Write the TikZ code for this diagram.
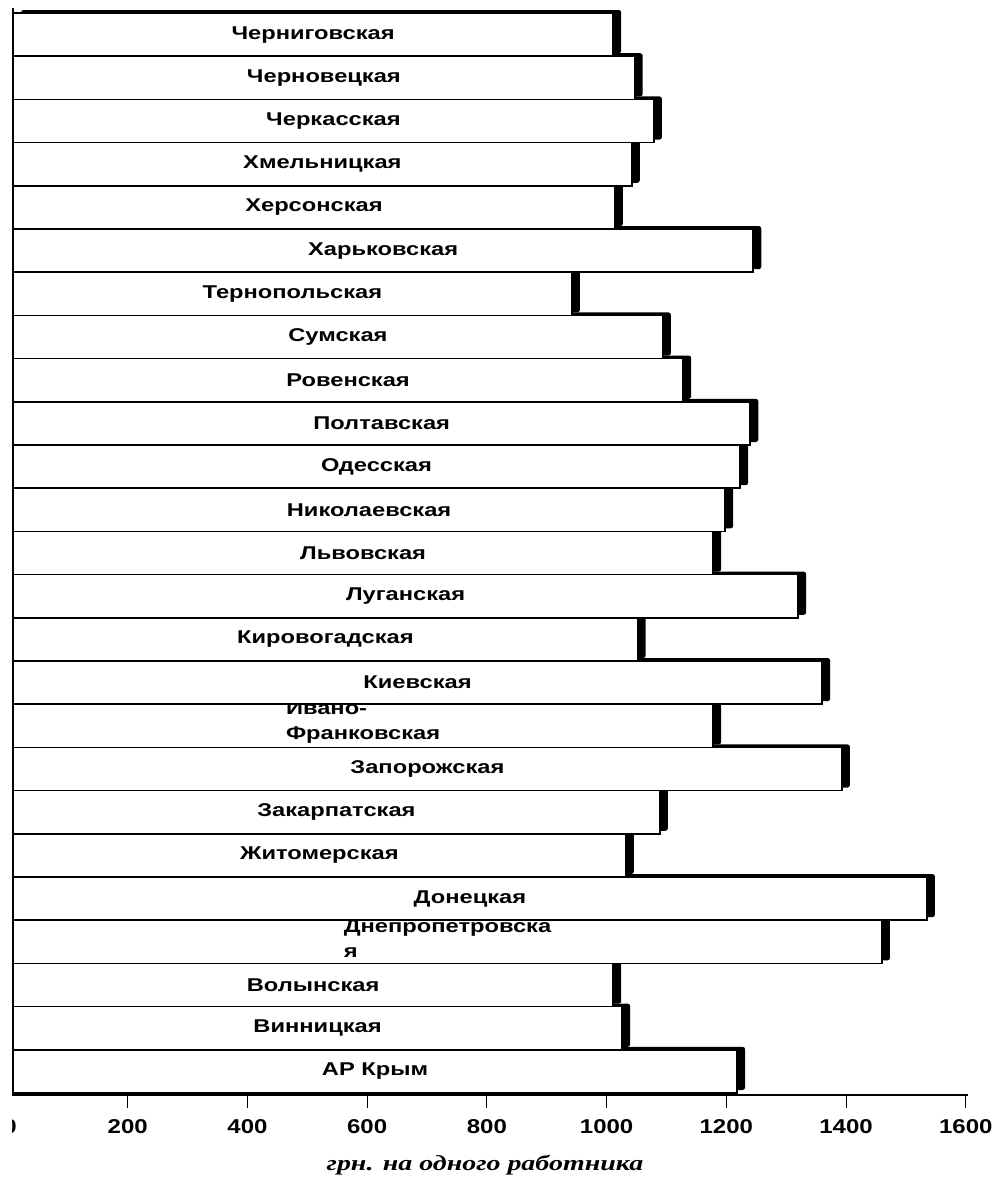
\documentclass[tikz,border=0pt]{standalone}
\usepackage{fontspec}
\setmainfont{Liberation Serif}
\newfontfamily\barfont[FakeStretch=1.28]{Liberation Sans}
\newfontfamily\tickfont[FakeStretch=1.2]{Liberation Sans}
\newfontfamily\unitfont[FakeStretch=1.3]{Liberation Serif}
\usetikzlibrary{calc}

% regions from the bottom bar upwards: name/value/label lift
\def\regions{%
    {АР Крым}/1218/0, Винницкая/1026/0, Волынская/1011/0,
    {Днепропетровска\\я}/1460/3, Донецкая/1535/0, Житомерская/1032/0,
    Закарпатская/1089/0, Запорожская/1393/0, {Ивано-\\Франковская}/1178/3,
    Киевская/1360/0, Кировогадская/1052/0, Луганская/1320/0,
    Львовская/1178/0, Николаевская/1198/0, Одесская/1223/0,
    Полтавская/1240/0, Ровенская/1128/0, Сумская/1094/0,
    Тернопольская/942/0, Харьковская/1245/0, Херсонская/1014/0,
    Хмельницкая/1042/0, Черкасская/1079/0, Черновецкая/1047/0,
    Черниговская/1011/0}

\begin{document}
\begin{tikzpicture} [
    x=1pt, y=-1pt,
    bar/.style = {draw=black, line width=1.6pt, fill=white},
    barshadow/.style = {fill=black, rounded corners=2.5pt},
    barlabel/.style = {font=\barfont\bfseries\fontsize{18.5}{25}\selectfont, align=left, inner sep=0pt},
    ticklabel/.style = {font=\tickfont\bfseries\fontsize{20}{20}\selectfont, inner sep=0pt},
    unitlabel/.style = {font=\unitfont\bfseries\itshape\fontsize{21.5}{21.5}\selectfont, inner sep=0pt}
]
    \useasboundingbox (0,0) rectangle (998,1178);

    % shadows first, the bars cover them
    \foreach \name/\val/\lift [count=\i] in \regions {
        \pgfmathsetmacro\xe{8+0.5986*\val}
        \pgfmathsetmacro\yb{1093-43.2*(\i-1)}
        \fill[barshadow] (21,\yb-46.2) rectangle (\xe+8,\yb-3);
    }
    \foreach \name/\val/\lift [count=\i] in \regions {
        \pgfmathsetmacro\xe{8+0.5986*\val}
        \pgfmathsetmacro\yb{1093-43.2*(\i-1)}
        \draw[bar] (13,\yb) rectangle (\xe,\yb-43.2);
        \node[barlabel] (r\i) at ({(13+\xe)/2},\yb-21.6-\lift) {\name};
    }

    % axis
    \draw[line width=1.6pt] (13,8) -- (13,1095) -- (968,1095);
    \foreach \v in {200,400,...,1600} {
        \draw[line width=1pt] ({8+0.5986*\v},1095) -- ++(0,13);
        \node[ticklabel] (t\v) at ({8+0.5986*\v},1127) {\v};
    }
    \begin{scope}
        \clip (12,1110) rectangle (40,1145);
        \node[ticklabel] (t0) at (10,1127) {0};
    \end{scope}
    \node[unitlabel] (unit) at (485,1165) {грн. на одного работника};
\end{tikzpicture}
\end{document}
